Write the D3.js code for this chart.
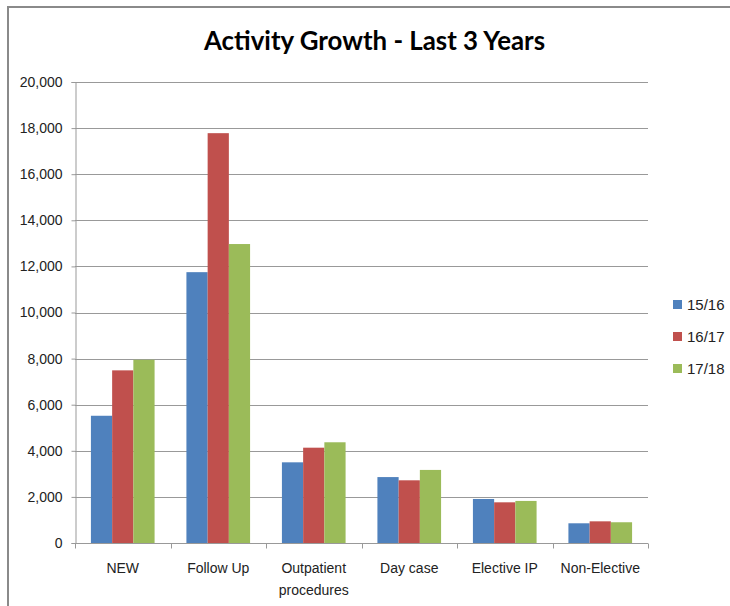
<!DOCTYPE html>
<html><head><meta charset="utf-8">
<script src="https://cdn.jsdelivr.net/npm/d3@7"></script>
<style>body{margin:0;background:#fff}svg{display:block}</style>
</head><body>
<script>
const categories = ["NEW", "Follow Up", "Outpatient procedures", "Day case", "Elective IP", "Non-Elective"];
const series = ["15/16", "16/17", "17/18"];
const values1516 = [5520, 11750, 3500, 2860, 1910, 855];
const values1617 = [7490, 17780, 4135, 2720, 1765, 940];
const values1718 = [7950, 12970, 4370, 3170, 1825, 900];
const colors = ["#4F81BD", "#C0504D", "#9BBB59"];
const yTicks = [0, 2000, 4000, 6000, 8000, 10000, 12000, 14000, 16000, 18000, 20000];
const title = "Activity Growth - Last 3 Years";

(function () {
const W = 730, H = 606;
const svg = d3.select("body").append("svg").attr("width", W).attr("height", H);
const font = "'Liberation Sans', Arial, sans-serif";

// outer frame (top and left edges visible)
svg.append("path").attr("d", `M8,${H} L8,7 L${W},7`).attr("fill", "none")
  .attr("stroke", "#8a8a8a").attr("stroke-width", 2);

const pL = 75, pR = 648, pT = 82, pB = 543;
const x = d3.scaleBand().domain(categories).range([pL, pR]);
const y = d3.scaleLinear().domain([0, 20000]).range([pB, pT]);
const allVals = [values1516, values1617, values1718];
const barW = x.bandwidth() / 4.5;

// gridlines
svg.append("g").selectAll("line").data(yTicks.filter(d => d > 0)).join("line")
  .attr("x1", pL).attr("x2", pR)
  .attr("y1", d => Math.round(y(d)) + 0.5).attr("y2", d => Math.round(y(d)) + 0.5)
  .attr("stroke", "#999").attr("stroke-width", 1);

// bars
series.forEach((s, si) => {
  svg.append("g").selectAll("rect").data(categories).join("rect")
    .attr("x", (c) => x(c) + (x.bandwidth() - 3 * barW) / 2 + si * barW)
    .attr("width", barW)
    .attr("y", (c, i) => y(allVals[si][i]))
    .attr("height", (c, i) => pB - y(allVals[si][i]))
    .attr("fill", colors[si]);
});

// y axis
const yAxis = d3.axisLeft(y).tickValues(yTicks).tickSize(4).tickPadding(9)
  .tickFormat(d3.format(","));
const gy = svg.append("g").attr("transform", `translate(${pL + 0.5},0)`).call(yAxis);
gy.select(".domain").attr("stroke", "#999");
gy.selectAll(".tick line").attr("stroke", "#999");
gy.selectAll("text").attr("font-family", font).attr("font-size", 14).attr("fill", "#222");

// x axis
const gx = svg.append("g").attr("transform", `translate(0,${pB + 0.5})`);
gx.append("line").attr("x1", pL).attr("x2", pR).attr("stroke", "#999");
const edges = categories.map(c => x(c)).concat([pR]);
gx.selectAll("line.tk").data(edges).join("line").attr("class", "tk")
  .attr("x1", d => Math.round(d) + 0.5).attr("x2", d => Math.round(d) + 0.5)
  .attr("y1", 0).attr("y2", 5).attr("stroke", "#999");
const labelLines = { "Outpatient procedures": ["Outpatient", "procedures"] };
categories.forEach(c => {
  const lines = labelLines[c] || [c];
  const t = gx.append("text").attr("x", x(c) + x.bandwidth() / 2).attr("y", 29)
    .attr("text-anchor", "middle").attr("font-family", font).attr("font-size", 14).attr("fill", "#222");
  lines.forEach((l, i) => t.append("tspan").attr("x", x(c) + x.bandwidth() / 2).attr("dy", i ? 22 : 0).text(l));
});

// title
svg.append("text").attr("x", 374.5).attr("y", 50).attr("text-anchor", "middle")
  .attr("font-family", "Lato, 'Open Sans', sans-serif").attr("font-weight", "bold").attr("font-size", 26)
  .attr("textLength", 341).attr("lengthAdjust", "spacingAndGlyphs")
  .attr("fill", "#000").text(title);

// legend
const lg = svg.append("g");
series.forEach((s, i) => {
  const yy = 300 + i * 32;
  lg.append("rect").attr("x", 673).attr("y", yy).attr("width", 9).attr("height", 9).attr("fill", colors[i]);
  lg.append("text").attr("x", 687).attr("y", yy + 10).attr("font-family", font).attr("font-size", 15)
    .attr("fill", "#222").text(s);
});
})();
</script>
</body></html>
